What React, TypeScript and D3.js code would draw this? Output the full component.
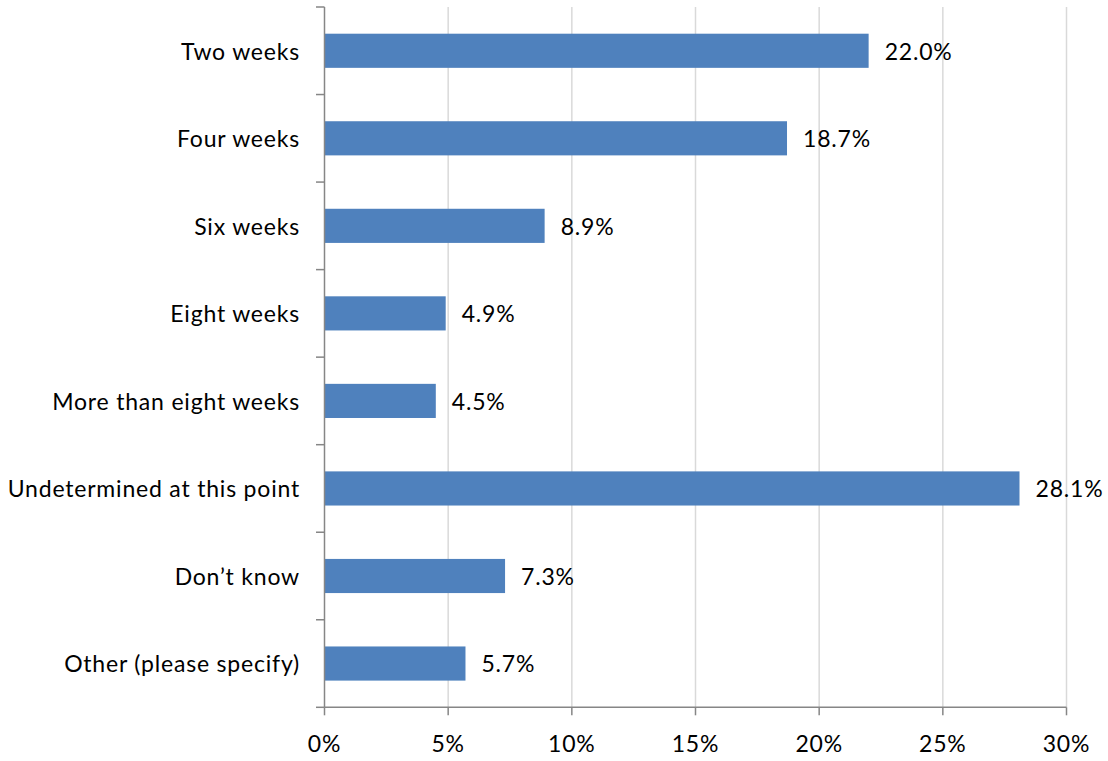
import React from "react";
import * as d3 from "d3";

const categories = [
  "Two weeks",
  "Four weeks",
  "Six weeks",
  "Eight weeks",
  "More than eight weeks",
  "Undetermined at this point",
  "Don\u2019t know",
  "Other (please specify)",
];
const values = [22.0, 18.7, 8.9, 4.9, 4.5, 28.1, 7.3, 5.7];
const xTicks = [0, 5, 10, 15, 20, 25, 30];

const W = 1108;
const H = 761;
const left = 324.5;
const right = 1066.5;
const top = 7;
const bottom = 707.3;
const FONT = "Lato, 'Open Sans', sans-serif";
const FS = 23;
const LS = 0.8;

export default function App() {
  const x = d3.scaleLinear().domain([0, 30]).range([left, right]);
  const y = d3.scaleBand<string>().domain(categories).range([top, bottom]).paddingInner(0.61).paddingOuter(0.305);
  const band = (bottom - top) / categories.length;
  const boundaries = d3.range(categories.length + 1).map((i) => top + i * band);

  return (
    <svg width={W} height={H} style={{ position: "absolute", left: 0, top: 0, background: "#fff" }}>
      {xTicks.slice(1).map((t) => (
        <line key={"g" + t} x1={x(t)} x2={x(t)} y1={top} y2={bottom} stroke="#d9d9d9" strokeWidth={1.5} />
      ))}
      {categories.map((c, i) => (
        <rect
          key={c}
          x={x(0)}
          y={y(c)}
          width={x(values[i]) - x(0)}
          height={y.bandwidth()}
          fill="#4f81bd"
        />
      ))}
      {categories.map((c, i) => (
        <text
          key={"v" + c}
          x={x(values[i]) + 16}
          y={(y(c) as number) + y.bandwidth() / 2}
          dy="0.38em"
          fontFamily={FONT}
          fontSize={FS}
          letterSpacing={LS}
          fill="#000"
        >
          {values[i].toFixed(1) + "%"}
        </text>
      ))}
      {categories.map((c) => (
        <text
          key={"l" + c}
          x={300}
          y={(y(c) as number) + y.bandwidth() / 2}
          dy="0.38em"
          textAnchor="end"
          fontFamily={FONT}
          fontSize={FS}
          letterSpacing={LS}
          fill="#000"
        >
          {c}
        </text>
      ))}
      <line x1={left} x2={left} y1={top} y2={bottom} stroke="#868686" strokeWidth={1.5} />
      {boundaries.map((b, i) => (
        <line key={"yt" + i} x1={316} x2={left} y1={b} y2={b} stroke="#868686" strokeWidth={1.5} />
      ))}
      <line x1={left} x2={right} y1={bottom} y2={bottom} stroke="#868686" strokeWidth={1.5} />
      {xTicks.map((t) => (
        <line key={"xt" + t} x1={x(t)} x2={x(t)} y1={bottom} y2={bottom + 8} stroke="#868686" strokeWidth={1.5} />
      ))}
      {xTicks.map((t) => (
        <text
          key={"xl" + t}
          x={x(t)}
          y={751.5}
          textAnchor="middle"
          fontFamily={FONT}
          fontSize={FS}
          letterSpacing={LS}
          fill="#000"
        >
          {t + "%"}
        </text>
      ))}
    </svg>
  );
}
